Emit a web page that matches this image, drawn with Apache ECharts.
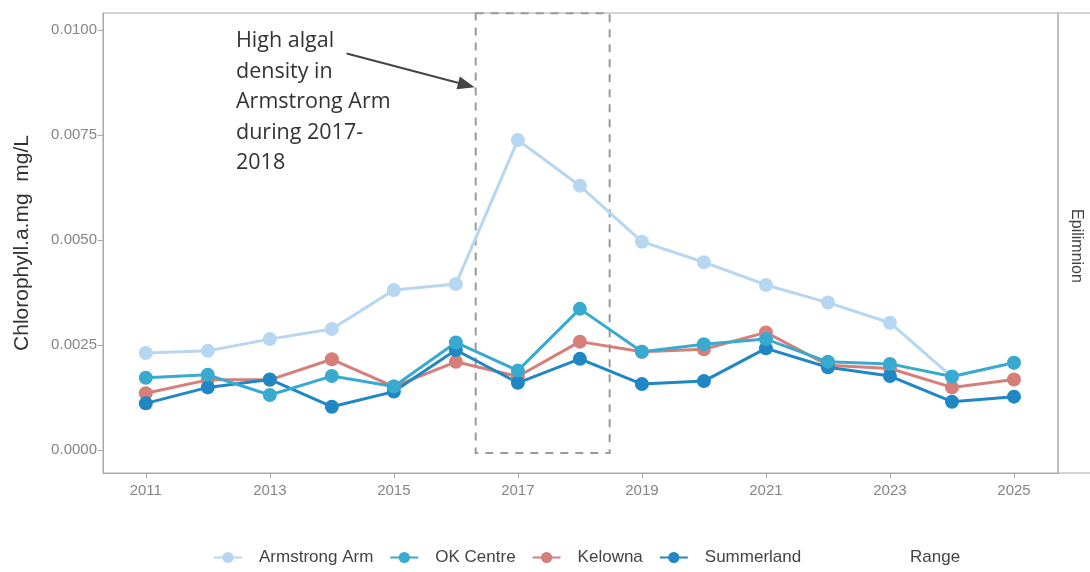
<!DOCTYPE html>
<html>
<head>
<meta charset="utf-8">
<script src="https://cdn.jsdelivr.net/npm/echarts@6/dist/echarts.min.js"></script>
<style>
  html, body { margin: 0; padding: 0; background: #fff; }
  #chart { width: 1090px; height: 572px; }
</style>
</head>
<body>
<div id="chart"></div>
<script>
// years on the x axis
const years = [2011, 2012, 2013, 2014, 2015, 2016, 2017, 2018, 2019, 2020, 2021, 2022, 2023, 2024, 2025];
const xTicks = [2011, 2013, 2015, 2017, 2019, 2021, 2023, 2025];
const yTicks = [0, 0.0025, 0.005, 0.0075, 0.01];

// Chlorophyll a (mg/L)
const armstrongArm = [0.00231, 0.00236, 0.00264, 0.00288, 0.00381, 0.00395, 0.00738, 0.00629, 0.00496, 0.00447, 0.00393, 0.00351, 0.00303, 0.00174, 0.00207];
const okCentre     = [0.00172, 0.00179, 0.00131, 0.00176, 0.00151, 0.00256, 0.00189, 0.00336, 0.00234, 0.00252, 0.00264, 0.0021, 0.00205, 0.00175, 0.00208];
const kelowna      = [0.00135, 0.00167, 0.00167, 0.00216, 0.00151, 0.0021, 0.00175, 0.00258, 0.00234, 0.0024, 0.0028, 0.00202, 0.00194, 0.00149, 0.00168];
const summerland   = [0.00111, 0.00149, 0.00168, 0.00103, 0.00139, 0.00238, 0.0016, 0.00217, 0.00157, 0.00164, 0.00242, 0.00197, 0.00176, 0.00115, 0.00127];

const colors = {
  'Armstrong Arm': '#b7d6f1',
  'OK Centre': '#38aacf',
  'Kelowna': '#d67f7a',
  'Summerland': '#1f87c3'
};

const chart = echarts.init(document.getElementById('chart'));

function lineSeries(name, values, extra) {
  return Object.assign({
    name: name,
    type: 'line',
    data: years.map((y, i) => [y, values[i]]),
    symbol: 'circle',
    symbolSize: 14,
    itemStyle: { color: colors[name] },
    lineStyle: { color: colors[name], width: 3 },
    emphasis: { disabled: true }
  }, extra || {});
}

const option = {
  animation: false,
  textStyle: { fontFamily: 'Liberation Sans' },
  grid: {
    left: 103, top: 13, right: 32, bottom: 99,
    show: true, borderColor: '#a8a8a8', borderWidth: 1
  },
  xAxis: {
    type: 'value',
    min: 2010.31,
    max: 2025.71,
    axisLine: { show: true, onZero: false, lineStyle: { color: '#a8a8a8' } },
    axisTick: { show: true, length: 5, customValues: xTicks, lineStyle: { color: '#a8a8a8' } },
    axisLabel: {
      customValues: xTicks, color: '#858585', fontSize: 15, margin: 10,
      formatter: v => String(v)
    },
    splitLine: { show: false }
  },
  yAxis: {
    type: 'value',
    min: -0.000548,
    max: 0.010405,
    name: 'Chlorophyll.a.mg  mg/L',
    nameLocation: 'middle',
    nameRotate: 90,
    nameGap: 70,
    nameTextStyle: { color: '#333', fontSize: 21 },
    axisLine: { show: true, onZero: false, lineStyle: { color: '#a8a8a8' } },
    axisTick: { show: true, length: 5, customValues: yTicks, lineStyle: { color: '#a8a8a8' } },
    axisLabel: {
      customValues: yTicks, color: '#858585', fontSize: 15, margin: 6,
      formatter: v => v.toFixed(4)
    },
    splitLine: { show: false }
  },
  legend: {
    data: ['Armstrong Arm', 'OK Centre', 'Kelowna', 'Summerland'],
    left: 208,
    top: 544,
    itemWidth: 28,
    itemHeight: 14,
    itemGap: 16,
    textStyle: { color: '#444', fontSize: 17, padding: [0, 0, 0, 12] }
  },
  series: [
    lineSeries('Armstrong Arm', armstrongArm, {
      markArea: {
        silent: true,
        itemStyle: { color: 'rgba(0,0,0,0)', borderColor: '#9a9a9a', borderWidth: 2, borderType: [8, 7] },
        data: [[{ coord: [2016.32, 0.0104] }, { coord: [2018.48, -0.00007] }]]
      },
      markLine: {
        silent: true,
        symbol: ['none', 'triangle'],
        symbolSize: [13, 17],
        label: { show: false },
        lineStyle: { color: '#444', width: 2, type: 'solid' },
        data: [[{ coord: [2014.24, 0.00944] }, { coord: [2016.17, 0.00869] }]]
      }
    }),
    lineSeries('Kelowna', kelowna),
    lineSeries('Summerland', summerland),
    lineSeries('OK Centre', okCentre)
  ],
  graphic: [
    {
      type: 'text',
      left: 236,
      top: 26,
      style: {
        text: 'High algal\ndensity in\nArmstrong Arm\nduring 2017-\n2018',
        font: '21.5px "Open Sans"',
        lineHeight: 30.5,
        fill: '#333'
      }
    },
    {
      type: 'rect',
      shape: { x: 1058, y: 13, width: 40, height: 460 },
      style: { fill: 'none', stroke: '#a8a8a8', lineWidth: 1 }
    },
    {
      type: 'text',
      x: 1076,
      y: 246,
      rotation: -Math.PI / 2,
      style: {
        text: 'Epilimnion',
        font: '16px "Liberation Sans"',
        fill: '#444',
        align: 'center',
        verticalAlign: 'middle'
      }
    },
    {
      type: 'text',
      left: 910,
      top: 549,
      style: {
        text: 'Range',
        font: '17px "Liberation Sans"',
        fill: '#444'
      }
    }
  ]
};

chart.setOption(option);
</script>
</body>
</html>
